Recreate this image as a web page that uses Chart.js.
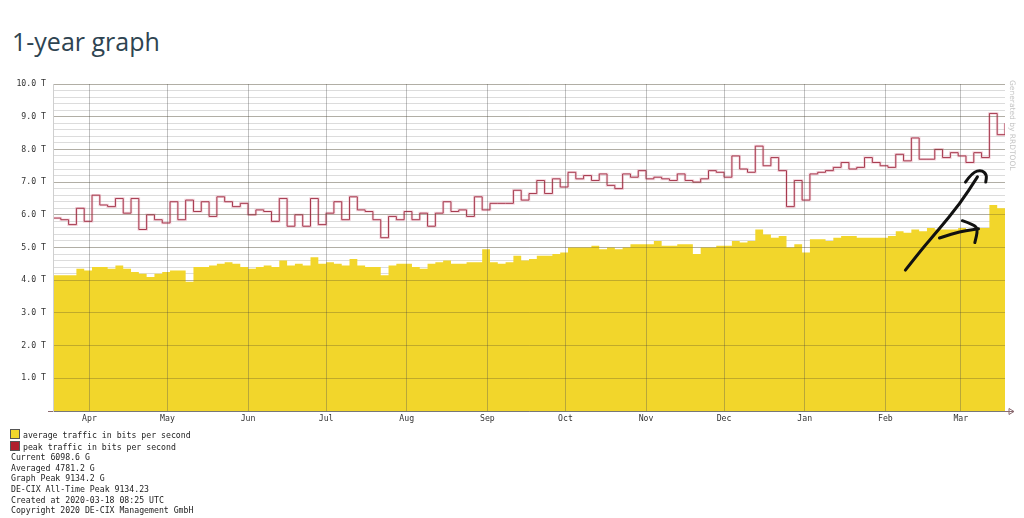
<!DOCTYPE html>
<html>
<head>
<meta charset="utf-8">
<script src="https://cdn.jsdelivr.net/npm/chart.js@4.4.1/dist/chart.umd.min.js"></script>
<style>
  body { margin: 0; background: #fff; width: 1024px; height: 518px; overflow: hidden; position: relative; }
  #title { position: absolute; left: 12px; top: 24px; margin: 0; font: 400 25px "Open Sans", sans-serif; color: #2e4451; }
  #chart { position: absolute; left: 0; top: 0; }
  #legend { position: absolute; left: 11px; top: 429px; font: 8.2px "DejaVu Sans Mono", monospace; line-height: 10.6px; color: #222; white-space: pre; }
  .sw { display: inline-block; width: 8px; height: 8px; border: 1px solid #555; vertical-align: -1px; margin: 0 3px 0 -1px; }
  #rrd { position: absolute; left: 1008px; top: 80px; writing-mode: vertical-rl; font: 7.5px "DejaVu Sans", sans-serif; color: #c4c4c4; }
</style>
</head>
<body>
<div id="title">1-year graph</div>
<canvas id="chart" width="1024" height="518"></canvas>
<div id="rrd">Generated by RRDTOOL</div>
<div id="legend"><span class="sw" style="background:#f2d62b"></span>average traffic in bits per second
<span class="sw" style="background:#b0202c"></span>peak traffic in bits per second
Current 6098.6 G
Averaged 4781.2 G
Graph Peak 9134.2 G
DE-CIX All-Time Peak 9134.23
Created at 2020-03-18 08:25 UTC
Copyright 2020 DE-CIX Management GmbH</div>

<script>
// one sample every 3 days, starting 2019-03-18 (values in Tbit/s)
const stepDays = 3;

const peakTraffic = [
  5.9, 5.85, 5.7, 6.2, 5.8, 6.6, 6.3, 6.25, 6.5, 6.05, 6.5, 5.55, 6.0, 5.85, 5.75, 6.4, 5.85, 6.45, 6.1, 6.4,
  5.95, 6.55, 6.4, 6.25, 6.35, 6.0, 6.15, 6.1, 5.8, 6.5, 5.65, 6.0, 5.65, 6.5, 5.7, 6.05, 6.4, 5.85, 6.55, 6.15,
  6.1, 5.85, 5.3, 5.95, 5.85, 6.1, 5.85, 6.05, 5.65, 6.05, 6.4, 6.1, 6.15, 5.95, 6.55, 6.15, 6.35, 6.35, 6.35, 6.75,
  6.45, 6.65, 7.05, 6.65, 7.1, 6.85, 7.3, 7.1, 7.2, 7.05, 7.25, 6.9, 6.8, 7.25, 7.15, 7.35, 7.1, 7.15, 7.1, 7.05,
  7.25, 7.05, 7.0, 7.1, 7.35, 7.3, 7.15, 7.8, 7.4, 7.3, 8.1, 7.5, 7.75, 7.35, 6.25, 7.05, 6.45, 7.25, 7.3, 7.35,
  7.45, 7.6, 7.4, 7.45, 7.75, 7.6, 7.5, 7.45, 7.85, 7.65, 8.35, 7.7, 7.7, 8.0, 7.75, 7.9, 7.8, 7.6, 7.9, 7.75,
  9.1, 8.45, 8.8
];

const avgTraffic = [
  4.15, 4.15, 4.15, 4.35, 4.3, 4.4, 4.4, 4.35, 4.45, 4.35, 4.25, 4.2, 4.1, 4.2, 4.25, 4.3, 4.3, 3.95, 4.4, 4.4,
  4.45, 4.5, 4.55, 4.5, 4.4, 4.35, 4.4, 4.45, 4.4, 4.6, 4.45, 4.5, 4.45, 4.7, 4.5, 4.55, 4.5, 4.45, 4.65, 4.45,
  4.4, 4.4, 4.15, 4.45, 4.5, 4.5, 4.4, 4.35, 4.5, 4.55, 4.6, 4.5, 4.5, 4.55, 4.55, 4.95, 4.55, 4.5, 4.55, 4.75,
  4.6, 4.65, 4.75, 4.75, 4.8, 4.85, 5.0, 5.0, 5.0, 5.05, 4.95, 5.0, 4.95, 5.0, 5.1, 5.1, 5.1, 5.2, 5.05, 5.05,
  5.1, 5.1, 4.8, 5.0, 5.0, 5.05, 5.05, 5.2, 5.15, 5.2, 5.55, 5.4, 5.3, 5.35, 5.0, 5.1, 4.85, 5.25, 5.25, 5.2,
  5.3, 5.35, 5.35, 5.3, 5.3, 5.3, 5.3, 5.35, 5.5, 5.45, 5.55, 5.5, 5.6, 5.55, 5.55, 5.55, 5.6, 5.55, 5.6, 5.6,
  6.3, 6.2, 6.35
];

// month starts, as day offsets from 2019-03-18
const monthDays = [14, 44, 75, 105, 136, 167, 197, 228, 258, 289, 320, 349];
const monthNames = ['Apr', 'May', 'Jun', 'Jul', 'Aug', 'Sep', 'Oct', 'Nov', 'Dec', 'Jan', 'Feb', 'Mar'];
const yTicks = [0, 1, 2, 3, 4, 5, 6, 7, 8, 9, 10];

// hand-drawn arrows on the picture, in [day, Tbit/s]
const arrowLong = [[327.7, 4.31], [334.0, 4.95], [340.0, 5.50], [348.8, 6.35], [355.4, 7.16]];
const arrowLongHead = [[350.8, 7.0], [353.5, 7.3], [357.0, 7.37], [359.0, 7.22], [358.6, 7.0]];
const arrowShort = [[340.8, 5.29], [346.0, 5.43], [351.0, 5.52], [355.8, 5.57]];
const arrowShortHead = [[349.6, 5.82], [354.0, 5.70], [355.6, 5.55], [354.4, 5.15]];

const toPoints = arr => arr.map((v, i) => ({ x: i * stepDays, y: v }));
const mono = { family: '"DejaVu Sans Mono", monospace', size: 8.2 };

const decorations = {
  id: 'decorations',
  afterDraw(chart) {
    const { ctx, chartArea: a, scales: { x, y } } = chart;
    ctx.save();
    // axis arrow at the right, small tick at the left
    ctx.strokeStyle = '#8a6a70';
    ctx.lineWidth = 1;
    ctx.beginPath();
    ctx.moveTo(a.right, a.bottom + 0.5);
    ctx.lineTo(a.right + 9, a.bottom + 0.5);
    ctx.moveTo(a.right + 4, a.bottom - 2.5);
    ctx.lineTo(a.right + 9, a.bottom + 0.5);
    ctx.lineTo(a.right + 4, a.bottom + 3.5);
    ctx.closePath();
    ctx.moveTo(a.left - 5, a.bottom + 0.5);
    ctx.lineTo(a.left, a.bottom + 0.5);
    ctx.stroke();

    // hand-drawn black arrows, smoothed through the midpoints
    ctx.strokeStyle = '#111';
    ctx.lineWidth = 3;
    ctx.lineCap = 'round';
    ctx.lineJoin = 'round';
    [arrowLong, arrowLongHead, arrowShort, arrowShortHead].forEach(path => {
      const p = path.map(([d, v]) => [x.getPixelForValue(d), y.getPixelForValue(v)]);
      ctx.beginPath();
      ctx.moveTo(p[0][0], p[0][1]);
      for (let i = 1; i < p.length - 1; i++) {
        const mx = (p[i][0] + p[i + 1][0]) / 2, my = (p[i][1] + p[i + 1][1]) / 2;
        ctx.quadraticCurveTo(p[i][0], p[i][1], mx, my);
      }
      const last = p[p.length - 1];
      ctx.lineTo(last[0], last[1]);
      ctx.stroke();
    });
    ctx.restore();
  }
};

new Chart(document.getElementById('chart'), {
  type: 'line',
  data: {
    datasets: [
      {
        label: 'peak traffic in bits per second',
        data: toPoints(peakTraffic),
        stepped: true,
        borderColor: '#a63a4e',
        borderWidth: 1,
        pointRadius: 0,
        fill: false
      },
      {
        label: 'peak halo',
        data: toPoints(peakTraffic),
        stepped: true,
        borderColor: 'rgba(230,150,170,0.4)',
        borderWidth: 2.6,
        pointRadius: 0,
        fill: false
      },
      {
        label: 'average traffic in bits per second',
        data: toPoints(avgTraffic),
        stepped: true,
        borderWidth: 0,
        borderColor: 'rgba(0,0,0,0)',
        backgroundColor: '#f2d62b',
        pointRadius: 0,
        fill: 'origin'
      }
    ]
  },
  options: {
    responsive: false,
    animation: false,
    layout: { padding: { top: 84, left: 0, right: 19, bottom: 87 } },
    plugins: { legend: { display: false }, tooltip: { enabled: false } },
    scales: {
      x: {
        type: 'linear',
        min: 0,
        max: (avgTraffic.length - 1) * stepDays,
        afterFit(s) { s.height = 20; },
        afterBuildTicks(s) { s.ticks = monthDays.map(v => ({ value: v })); },
        ticks: {
          font: mono,
          color: '#333',
          padding: 3,
          maxRotation: 0,
          autoSkip: false,
          callback: v => monthNames[monthDays.indexOf(v)]
        },
        grid: { color: 'rgba(80,80,80,0.35)', drawTicks: false, z: 1 },
        border: { display: true, color: '#777', width: 1, z: 2 }
      },
      y: {
        min: 0,
        max: 10,
        afterFit(s) { s.width = 53; },
        afterBuildTicks(s) { s.ticks = yTicks.map(v => ({ value: v })); },
        ticks: {
          font: mono,
          color: '#333',
          padding: 7,
          callback: v => (v === 0 ? '' : v.toFixed(1) + ' T')
        },
        grid: { color: 'rgba(80,70,40,0.3)', drawTicks: false, z: 1 },
        border: { display: true, color: '#cfcfcf', z: 2 }
      },
      yMinor: {
        position: 'left',
        min: 0,
        max: 10,
        afterFit(s) { s.width = 0; },
        ticks: { display: false, stepSize: 0.2 },
        grid: { color: '#dcdcdc', drawTicks: false },
        border: { display: false }
      }
    }
  },
  plugins: [decorations]
});
</script>
</body>
</html>
